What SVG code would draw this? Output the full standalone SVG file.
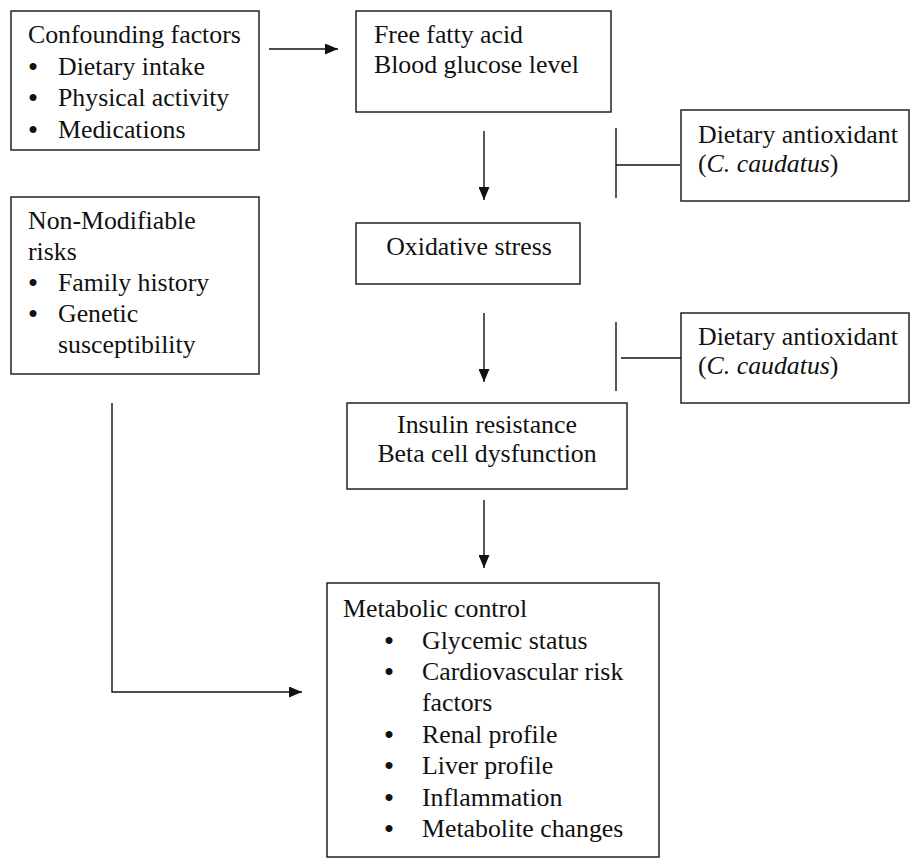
<svg xmlns="http://www.w3.org/2000/svg" width="911" height="858" viewBox="0 0 911 858">
<style>
.box{fill:#fff;stroke:#222;stroke-width:1.5}
.t{font-family:'Liberation Serif',Tinos,'Times New Roman',Times,'DejaVu Serif','Noto Serif',serif;font-size:25.8px;fill:#111}
.c{text-anchor:middle}
.b{font-weight:bold}
.ln{stroke:#111;stroke-width:1.4;fill:none}
</style>
<defs>
<marker id="ah" viewBox="0 0 13 11" refX="13" refY="5.5" markerWidth="13" markerHeight="11" markerUnits="userSpaceOnUse" orient="auto">
<path d="M0,0 L13,5.5 L0,11 Z" fill="#111"/>
</marker>
</defs>
<rect width="911" height="858" fill="#fff"/>
<g id="confounding">
<rect class="box" x="11" y="11" width="248" height="139"/>
<text class="t" x="28" y="43">Confounding factors</text>
<text class="t c b" x="33" y="74.5">•</text><text class="t" x="58" y="74.5">Dietary intake</text>
<text class="t c b" x="33" y="106">•</text><text class="t" x="58" y="106">Physical activity</text>
<text class="t c b" x="33" y="137.5">•</text><text class="t" x="58" y="137.5">Medications</text>
</g>
<g id="nonmodifiable">
<rect class="box" x="11" y="197" width="248" height="177"/>
<text class="t" x="28" y="229">Non-Modifiable</text>
<text class="t" x="28" y="260">risks</text>
<text class="t c b" x="33" y="290.5">•</text><text class="t" x="58" y="290.5">Family history</text>
<text class="t c b" x="33" y="322">•</text><text class="t" x="58" y="322">Genetic</text>
<text class="t" x="58" y="352.5">susceptibility</text>
</g>
<g id="ffa">
<rect class="box" x="356" y="11" width="255" height="101"/>
<text class="t" x="374" y="43">Free fatty acid</text>
<text class="t" x="374" y="73">Blood glucose level</text>
</g>
<g id="oxidative">
<rect class="box" x="356" y="223" width="224" height="61"/>
<text class="t c" x="469" y="255">Oxidative stress</text>
</g>
<g id="antioxidant1">
<rect class="box" x="681" y="110" width="228" height="91"/>
<text class="t" x="698" y="143">Dietary antioxidant</text>
<text class="t" x="698" y="172">(<tspan font-style="italic">C. caudatus</tspan>)</text>
</g>
<g id="antioxidant2">
<rect class="box" x="681" y="313" width="228" height="90"/>
<text class="t" x="698" y="345">Dietary antioxidant</text>
<text class="t" x="698" y="374">(<tspan font-style="italic">C. caudatus</tspan>)</text>
</g>
<g id="insulin">
<rect class="box" x="347" y="403" width="280" height="86"/>
<text class="t c" x="487" y="433">Insulin resistance</text>
<text class="t c" x="487" y="462">Beta cell dysfunction</text>
</g>
<g id="metabolic">
<rect class="box" x="327" y="583" width="332" height="274"/>
<text class="t" x="343" y="617">Metabolic control</text>
<text class="t c b" x="389" y="648.5">•</text><text class="t" x="422" y="648.5">Glycemic status</text>
<text class="t c b" x="389" y="680">•</text><text class="t" x="422" y="680">Cardiovascular risk</text>
<text class="t" x="422" y="711">factors</text>
<text class="t c b" x="389" y="742.5">•</text><text class="t" x="422" y="742.5">Renal profile</text>
<text class="t c b" x="389" y="774">•</text><text class="t" x="422" y="774">Liver profile</text>
<text class="t c b" x="389" y="805.5">•</text><text class="t" x="422" y="805.5">Inflammation</text>
<text class="t c b" x="389" y="837">•</text><text class="t" x="422" y="837">Metabolite changes</text>
</g>
<g id="connectors">
<line class="ln" x1="269" y1="49" x2="338" y2="49" marker-end="url(#ah)"/>
<line class="ln" x1="484" y1="131" x2="484" y2="200" marker-end="url(#ah)"/>
<line class="ln" x1="484" y1="313" x2="484" y2="382" marker-end="url(#ah)"/>
<line class="ln" x1="484" y1="500" x2="484" y2="568" marker-end="url(#ah)"/>
<polyline class="ln" points="112,403 112,692 302,692" marker-end="url(#ah)"/>
<line class="ln" x1="616" y1="128" x2="616" y2="198"/>
<line class="ln" x1="616" y1="165" x2="680" y2="165"/>
<line class="ln" x1="616" y1="322" x2="616" y2="391"/>
<line class="ln" x1="621" y1="358" x2="681" y2="358"/>
</g>
</svg>
